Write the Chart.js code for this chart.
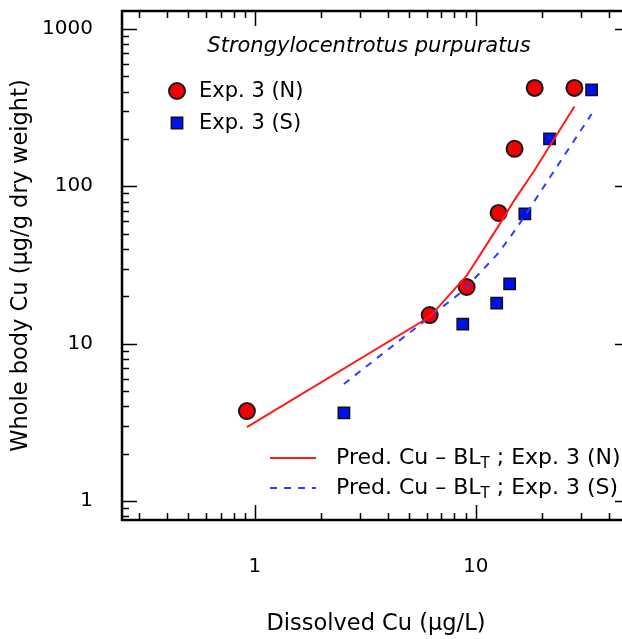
<!DOCTYPE html>
<html>
<head>
<meta charset="utf-8">
<script src="https://cdn.jsdelivr.net/npm/chart.js@4.4.1/dist/chart.umd.min.js"></script>
<style>
  html, body { margin: 0; padding: 0; background: #fff; overflow: hidden; width: 622px; height: 639px; }
  #wrap { position: relative; width: 640px; height: 639px; }
</style>
</head>
<body>
<div id="wrap"><canvas id="c" width="640" height="639"></canvas></div>
<script>
// Whole-body Cu in S. purpuratus vs dissolved Cu, experiment 3 (N and S)
const expN_dissolved = [0.92, 6.19, 9.1, 12.7, 15.0, 18.5, 28.0];
const expN_body      = [3.73, 15.2, 22.9, 67.7, 173, 422, 422];
const expS_dissolved = [2.53, 8.74, 12.45, 14.25, 16.7, 21.6, 33.5];
const expS_body      = [3.63, 13.3, 18.1, 24.0, 66.8, 200, 410];

// Cu-BL_T model predictions at each exposure concentration
const predN_body = [2.95, 14.8, 27.0, 56.0, 82.0, 127, 321];
const predS_body = [5.54, 21.6, 36.6, 47.0, 64.8, 113, 288];

const xTickValues = [1, 10];
const yTickValues = [1, 10, 100, 1000];
const xRange = [0.25, 50];
const yRange = [0.757, 1300];

const FONT = "'DejaVu Sans', sans-serif";
const pts = (xs, ys) => xs.map((x, i) => ({ x: x, y: ys[i] }));

// minor/major tick values inside a log range
function logTicks(min, max) {
  const out = [];
  for (let e = Math.floor(Math.log10(min)); e <= Math.ceil(Math.log10(max)); e++) {
    for (let m = 1; m <= 9; m++) {
      const v = m * Math.pow(10, e);
      if (v >= min * 0.9999 && v <= max * 1.0001) out.push({ v: v, major: m === 1 });
    }
  }
  return out;
}

const framePlugin = {
  id: 'frame',
  afterDraw(chart) {
    const { ctx, chartArea: a, scales } = chart;
    ctx.save();
    ctx.strokeStyle = '#000';
    ctx.lineWidth = 1.5;
    const MAJ = 15, MIN = 7;
    ctx.beginPath();
    logTicks(xRange[0], xRange[1]).forEach(t => {
      const px = Math.round(scales.x.getPixelForValue(t.v)) + 0.5;
      const L = t.major ? MAJ : MIN;
      ctx.moveTo(px, a.bottom); ctx.lineTo(px, a.bottom - L);
      ctx.moveTo(px, a.top); ctx.lineTo(px, a.top + L);
    });
    logTicks(yRange[0], yRange[1]).forEach(t => {
      const py = Math.round(scales.y.getPixelForValue(t.v)) + 0.5;
      const L = t.major ? MAJ : MIN;
      ctx.moveTo(a.left, py); ctx.lineTo(a.left + L, py);
      ctx.moveTo(a.right, py); ctx.lineTo(a.right - L, py);
    });
    ctx.stroke();
    ctx.lineWidth = 2.5;
    ctx.strokeRect(a.left, a.top, a.right - a.left, a.bottom - a.top);

    // species name
    ctx.fillStyle = '#000';
    ctx.font = "oblique 21px " + FONT;
    ctx.textAlign = 'center';
    ctx.textBaseline = 'middle';
    ctx.fillText('Strongylocentrotus purpuratus', 369, 47);

    // observation legend (upper left)
    const ds = chart.data.datasets;
    ctx.textAlign = 'left';
    ctx.font = "21px " + FONT;
    [[ds[2], 91], [ds[3], 123]].forEach(([d, y]) => {
      ctx.fillStyle = d.backgroundColor;
      ctx.strokeStyle = d.borderColor;
      ctx.lineWidth = d.borderWidth;
      Chart.helpers.drawPoint(ctx, { pointStyle: d.pointStyle, radius: d.pointRadius, borderWidth: d.borderWidth, rotation: 0 }, 177, y);
      ctx.fillStyle = '#000';
      ctx.fillText(d.label, 199, y + 1);
    });

    // prediction legend (lower right)
    [[ds[0], 458, '(N)'], [ds[1], 488, '(S)']].forEach(([d, y, tag]) => {
      ctx.strokeStyle = d.borderColor;
      ctx.lineWidth = d.borderWidth;
      ctx.setLineDash(d.borderDash || []);
      ctx.beginPath(); ctx.moveTo(270, y); ctx.lineTo(316, y); ctx.stroke();
      ctx.setLineDash([]);
      ctx.fillStyle = '#000';
      let x = 336;
      ctx.font = "22px " + FONT;
      const a1 = 'Pred. Cu \u2013 BL';
      ctx.fillText(a1, x, y); x += ctx.measureText(a1).width;
      ctx.font = "15px " + FONT;
      ctx.fillText('T', x, y + 6); x += ctx.measureText('T').width;
      ctx.font = "22px " + FONT;
      ctx.fillText(' ; Exp. 3 ' + tag, x, y);
    });
    ctx.restore();
  }
};

new Chart(document.getElementById('c'), {
  data: {
    datasets: [
      { type: 'line', label: 'Pred. Cu-BLT; Exp. 3 (N)', data: pts(expN_dissolved, predN_body),
        borderColor: '#ff1a1a', borderWidth: 2, pointRadius: 0, fill: false, tension: 0, order: 0 },
      { type: 'line', label: 'Pred. Cu-BLT; Exp. 3 (S)', data: pts(expS_dissolved, predS_body),
        borderColor: '#2b3dff', borderWidth: 2, borderDash: [7, 7], pointRadius: 0, fill: false, tension: 0, order: 1 },
      { type: 'scatter', label: 'Exp. 3 (N)', data: pts(expN_dissolved, expN_body),
        pointStyle: 'circle', pointRadius: 8, borderWidth: 2, backgroundColor: '#f50000', borderColor: '#1a1a1a', order: 2 },
      { type: 'scatter', label: 'Exp. 3 (S)', data: pts(expS_dissolved, expS_body),
        pointStyle: 'rect', pointRadius: 8, borderWidth: 1.5, backgroundColor: '#0010ee', borderColor: '#111', order: 3 }
    ]
  },
  options: {
    responsive: false,
    animation: false,
    devicePixelRatio: 1,
    layout: { padding: { left: 0, top: 11, right: 8, bottom: 0 } },
    plugins: { legend: { display: false }, tooltip: { enabled: false } },
    scales: {
      x: {
        type: 'logarithmic', position: 'bottom', min: xRange[0], max: xRange[1],
        grid: { display: false, drawTicks: false }, border: { display: false },
        ticks: { color: '#000', font: { family: FONT, size: 20 }, padding: 35, autoSkip: false, maxRotation: 0,
                 callback: v => String(v) },
        afterBuildTicks: s => { s.ticks = xTickValues.map(v => ({ value: v })); },
        afterFit: s => { s.height = 119; s.paddingLeft = 0; s.paddingRight = 0; },
        title: { display: true, text: 'Dissolved Cu (\u00b5g/L)', color: '#000',
                 font: { family: FONT, size: 22.5 }, padding: { top: 0, bottom: 1 } }
      },
      y: {
        type: 'logarithmic', position: 'left', min: yRange[0], max: yRange[1],
        grid: { display: false, drawTicks: false }, border: { display: false },
        ticks: { color: '#000', font: { family: FONT, size: 20 }, padding: 29, autoSkip: false,
                 callback: v => String(v) },
        afterBuildTicks: s => { s.ticks = yTickValues.map(v => ({ value: v })); },
        afterFit: s => { s.width = 122; s.paddingTop = 0; s.paddingBottom = 0; },
        title: { display: true, text: 'Whole body Cu (\u00b5g/g dry weight)', color: '#000',
                 font: { family: FONT, size: 22.5 }, padding: { top: 8, bottom: 0 } }
      }
    }
  },
  plugins: [framePlugin]
});
</script>
</body>
</html>
